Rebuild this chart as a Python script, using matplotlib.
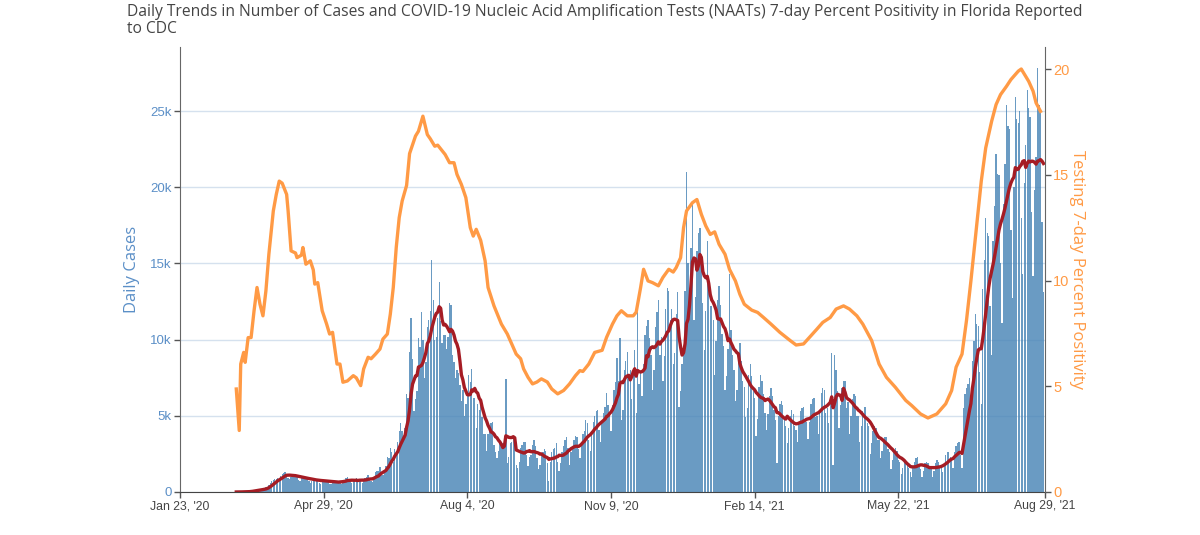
import numpy as np
import pandas as pd
import matplotlib
matplotlib.use('Agg')
import matplotlib.pyplot as plt

# daily reported cases (thousands), one week per row, starting Sunday 2020-03-01
case_start = '2020-03-01'
daily_cases_k = [
    0.0, 0.0, 0.01, 0.01, 0.01, 0.02, 0.02,
    0.02, 0.03, 0.05, 0.07, 0.1, 0.13, 0.16,
    0.1, 0.12, 0.15, 0.2, 0.25, 0.27, 0.3,
    0.35, 0.45, 0.6, 0.7, 0.8, 0.85, 0.85,
    0.9, 0.85, 1.05, 1.15, 1.25, 1.3, 1.2,
    0.95, 0.85, 1.0, 1.15, 1.2, 1.15, 1.05,
    0.8, 0.7, 0.9, 1.0, 1.0, 1.0, 0.9,
    0.7, 0.6, 0.75, 0.85, 0.9, 0.85, 0.8,
    0.6, 0.55, 0.7, 0.8, 0.8, 0.8, 0.72,
    0.55, 0.5, 0.65, 0.7, 0.75, 0.75, 0.65,
    0.6, 0.55, 0.75, 0.8, 0.9, 1.0, 0.72,
    0.65, 0.6, 0.7, 0.8, 0.95, 0.85, 0.85,
    0.7, 0.6, 0.7, 0.9, 1.0, 1.1, 0.95,
    0.75, 0.65, 1.0, 1.3, 1.35, 1.35, 1.65,
    1.3, 1.1, 1.4, 1.7, 2.3, 2.2, 2.9,
    2.6, 2.0, 2.8, 2.7, 3.3, 4.0, 4.5,
    4.0, 3.4, 4.2, 6.4, 6.2, 9.2, 11.4,
    8.7, 5.3, 6.1, 6.6, 10.1, 9.5, 11.8,
    10.0, 7.5, 8.5, 10.8, 11.3, 11.9, 15.2,
    12.6, 10.0, 10.2, 11.4, 13.8, 11.2, 9.8,
    10.3, 10.3, 9.4, 10.2, 12.4, 12.3, 9.0,
    8.5, 7.5, 8.0, 7.8, 7.0, 6.0, 6.7,
    5.0, 5.8, 6.4, 7.7, 7.2, 8.1, 6.2,
    6.2, 4.2, 5.8, 5.4, 6.2, 4.9, 3.8,
    3.8, 2.7, 3.8, 4.1, 4.5, 4.6, 3.1,
    2.6, 2.2, 2.7, 3.3, 3.3, 3.2, 3.7,
    7.4, 1.9, 2.3, 3.2, 3.3, 3.6, 3.2,
    1.8, 1.6, 2.0, 2.9, 3.1, 3.3, 3.3,
    2.4, 1.7, 2.3, 2.4, 3.1, 3.4, 3.0,
    2.2, 1.5, 1.8, 2.5, 2.6, 2.8, 2.7,
    1.9, 0.7, 2.0, 2.6, 2.8, 2.9, 3.2,
    2.0, 1.4, 1.9, 2.6, 3.0, 3.4, 3.6,
    2.9, 1.8, 2.6, 3.0, 3.4, 3.7, 3.6,
    2.8, 2.2, 3.2, 3.8, 4.0, 4.7, 4.5,
    3.4, 2.7, 4.0, 4.6, 5.0, 5.3, 5.4,
    4.1, 3.3, 4.6, 5.2, 5.6, 6.5, 5.7,
    5.1, 4.0, 5.7, 6.7, 7.2, 8.8, 7.3,
    10.1, 4.7, 5.4, 8.0, 8.6, 9.2, 7.6,
    8.0, 6.1, 7.8, 9.3, 5.2, 11.8, 7.1,
    7.8, 6.3, 8.4, 10.3, 10.9, 11.3, 10.1,
    9.0, 6.7, 8.0, 10.8, 11.8, 12.6, 9.0,
    10.2, 7.3, 8.9, 12.0, 13.4, 13.2, 11.3,
    12.0, 8.4, 9.1, 11.7, 13.1, 5.6, 6.6,
    8.4, 9.5, 13.2, 21.0, 15.0, 12.1, 16.0,
    18.9, 11.3, 12.8, 15.8, 17.0, 17.3, 14.7,
    12.4, 9.3, 11.9, 16.5, 13.7, 12.2, 12.2,
    11.3, 7.7, 9.9, 12.6, 13.5, 12.3, 10.4,
    9.6, 6.7, 7.6, 9.4, 14.3, 10.6, 9.0,
    8.0, 6.0, 6.7, 8.9, 9.8, 8.6, 7.3,
    6.9, 4.9, 5.5, 7.7, 8.4, 7.6, 6.6,
    6.2, 3.7, 4.8, 6.9, 7.7, 7.3, 6.4,
    5.2, 4.1, 5.1, 6.3, 6.8, 6.3, 5.4,
    4.7, 1.9, 5.0, 5.8, 6.0, 5.7, 4.8,
    4.3, 3.2, 4.2, 5.0, 5.4, 5.1, 4.3,
    4.1, 3.3, 4.5, 5.3, 5.5, 5.6, 4.6,
    4.6, 3.5, 4.6, 5.8, 6.1, 6.2, 4.9,
    5.0, 3.8, 5.2, 6.5, 6.8, 6.7, 5.2,
    5.5, 4.5, 5.9, 9.1, 1.8, 9.0, 8.0,
    6.6, 4.2, 5.7, 6.8, 7.3, 7.3, 5.5,
    5.9, 3.8, 5.0, 6.1, 6.4, 6.3, 5.0,
    5.0, 3.3, 4.3, 5.3, 5.6, 5.6, 4.5,
    4.3, 2.5, 3.2, 4.0, 4.3, 4.2, 3.4,
    3.4, 2.2, 2.7, 3.4, 3.6, 3.6, 2.8,
    2.6, 1.5, 2.1, 2.6, 2.9, 2.7, 2.1,
    2.0, 1.2, 1.6, 2.0, 2.1, 2.0, 1.55,
    1.3, 1.0, 1.6, 2.0, 2.2, 2.3, 1.85,
    1.5, 1.0, 1.4, 1.9, 2.0, 1.9, 1.5,
    1.5, 1.0, 1.4, 1.9, 2.1, 2.0, 1.65,
    1.7, 1.3, 1.8, 2.4, 2.6, 2.6, 2.3,
    2.1, 1.6, 2.6, 3.0, 3.2, 3.3, 2.4,
    1.6, 5.5, 6.4, 6.8, 7.1, 7.5, 5.7,
    8.6, 9.9, 11.7, 11.0, 10.9, 7.9, 5.8,
    13.3, 15.2, 18.0, 17.0, 16.8, 12.2, 9.0,
    16.5, 18.8, 22.2, 20.9, 20.8, 15.0, 11.1,
    18.9, 21.5, 25.4, 24.0, 23.8, 17.2, 12.7,
    20.0, 25.9, 24.5, 24.2, 25.0, 18.0, 14.3,
    20.3, 22.8, 26.4, 25.2, 24.6, 18.4, 14.2,
    19.8, 22.0, 27.8, 25.4, 25.1, 17.7, 13.1,
]

# NAAT 7-day percent positivity
pos_dates = [
    '2020-03-01', '2020-03-03', '2020-03-04', '2020-03-06', '2020-03-07', '2020-03-09',
    '2020-03-11', '2020-03-13', '2020-03-15', '2020-03-17', '2020-03-19', '2020-03-21',
    '2020-03-23', '2020-03-26', '2020-03-28', '2020-03-30', '2020-04-01', '2020-04-04',
    '2020-04-05', '2020-04-07', '2020-04-10', '2020-04-11', '2020-04-14', '2020-04-15',
    '2020-04-17', '2020-04-20', '2020-04-22', '2020-04-23', '2020-04-25', '2020-04-28',
    '2020-05-01', '2020-05-03', '2020-05-05', '2020-05-08', '2020-05-10', '2020-05-12',
    '2020-05-15', '2020-05-19', '2020-05-21', '2020-05-24', '2020-05-26', '2020-05-29',
    '2020-05-31', '2020-06-03', '2020-06-06', '2020-06-08', '2020-06-11', '2020-06-13',
    '2020-06-15', '2020-06-17', '2020-06-19', '2020-06-21', '2020-06-24', '2020-06-26',
    '2020-06-30', '2020-07-02', '2020-07-05', '2020-07-08', '2020-07-10', '2020-07-13',
    '2020-07-15', '2020-07-20', '2020-07-23', '2020-07-26', '2020-07-28', '2020-07-31',
    '2020-08-03', '2020-08-06', '2020-08-08', '2020-08-10', '2020-08-13', '2020-08-16',
    '2020-08-18', '2020-08-22', '2020-08-27', '2020-08-31', '2020-09-03', '2020-09-06',
    '2020-09-09', '2020-09-11', '2020-09-14', '2020-09-17', '2020-09-20', '2020-09-23',
    '2020-09-27', '2020-09-30', '2020-10-04', '2020-10-08', '2020-10-12', '2020-10-16',
    '2020-10-19', '2020-10-21', '2020-10-25', '2020-10-29', '2020-11-03', '2020-11-06',
    '2020-11-10', '2020-11-13', '2020-11-16', '2020-11-20', '2020-11-24', '2020-11-26',
    '2020-11-29', '2020-12-01', '2020-12-04', '2020-12-07', '2020-12-11', '2020-12-14',
    '2020-12-18', '2020-12-21', '2020-12-23', '2020-12-26', '2020-12-28', '2020-12-30',
    '2021-01-03', '2021-01-06', '2021-01-09', '2021-01-12', '2021-01-15', '2021-01-18',
    '2021-01-21', '2021-01-25', '2021-01-28', '2021-02-01', '2021-02-04', '2021-02-07',
    '2021-02-12', '2021-02-16', '2021-02-20', '2021-02-25', '2021-03-03', '2021-03-10',
    '2021-03-14', '2021-03-19', '2021-03-23', '2021-03-28', '2021-04-01', '2021-04-06',
    '2021-04-10', '2021-04-15', '2021-04-19', '2021-04-24', '2021-04-28', '2021-05-04',
    '2021-05-09', '2021-05-14', '2021-05-20', '2021-05-27', '2021-05-31', '2021-06-06',
    '2021-06-11', '2021-06-17', '2021-06-23', '2021-06-27', '2021-06-30', '2021-07-04',
    '2021-07-07', '2021-07-10', '2021-07-14', '2021-07-17', '2021-07-20', '2021-07-24',
    '2021-07-27', '2021-07-30', '2021-08-03', '2021-08-06', '2021-08-11', '2021-08-13',
    '2021-08-18', '2021-08-21', '2021-08-23', '2021-08-26',
]
pos_values = [
    4.87, 2.91, 6.05, 6.6, 6.13, 7.3,
    7.3, 8.57, 9.67, 8.88, 8.33, 9.51,
    11.24, 13.29, 14.07, 14.7, 14.6, 14.07,
    13.29, 11.4, 11.3, 11.08, 11.2, 11.56,
    10.77, 10.93, 10.5, 9.83, 9.9, 8.57,
    7.94, 7.47, 7.55, 6.05, 6.05, 5.19,
    5.25, 5.5, 5.4, 5.03, 5.82, 6.37,
    6.3, 6.52, 6.76, 7.23, 7.47, 8.41,
    9.67, 11.56, 12.97, 13.76, 14.5, 16.0,
    16.83, 17.06, 17.77, 16.9, 16.7, 16.35,
    16.4, 15.96, 15.57, 15.57, 15.02, 14.54,
    13.92, 12.5, 12.1, 12.42, 11.9, 10.93,
    9.67, 8.8, 7.94, 7.47, 7.0, 6.52,
    6.3, 5.82, 5.42, 5.11, 5.2, 5.35,
    5.2, 4.87, 4.64, 4.8, 5.11, 5.5,
    5.74, 5.7, 6.05, 6.6, 6.7, 7.31,
    7.94, 8.33, 8.57, 8.33, 8.33, 8.5,
    9.67, 10.53, 9.98, 9.9, 9.75, 10.14,
    10.53, 10.4, 10.61, 11.08, 12.5, 13.29,
    13.68, 13.83, 13.13, 12.58, 12.18, 12.3,
    11.71, 11.24, 10.53, 9.98, 9.35, 8.88,
    8.6, 8.49, 8.25, 7.94, 7.55, 7.16,
    6.95, 7.0, 7.31, 7.7, 8.02, 8.25,
    8.65, 8.8, 8.65, 8.33, 7.94, 7.16,
    6.05, 5.42, 4.95, 4.33, 4.09, 3.69,
    3.5, 3.69, 4.17, 4.8, 5.9, 6.52,
    8.1, 9.98, 12.66, 14.7, 16.27, 17.53,
    18.32, 18.79, 19.18, 19.5, 19.9, 20.0,
    19.42, 18.95, 18.4, 18.0,
]

x_ticks = ['2020-01-23', '2020-04-29', '2020-08-04', '2020-11-09',
           '2021-02-14', '2021-05-22', '2021-08-29']
x_tick_labels = ["Jan 23, '20", "Apr 29, '20", "Aug 4, '20", "Nov 9, '20",
                 "Feb 14, '21", "May 22, '21", "Aug 29, '21"]
case_ticks = [0, 5000, 10000, 15000, 20000, 25000]
case_tick_labels = ['0', '5k', '10k', '15k', '20k', '25k']
pos_ticks = [0, 5, 10, 15, 20]

title = ('Daily Trends in Number of Cases and COVID-19 Nucleic Acid Amplification Tests '
         '(NAATs) 7-day Percent Positivity in Florida Reported\nto CDC')

days = pd.date_range(case_start, periods=len(daily_cases_k), freq='D')
cases = pd.Series(np.array(daily_cases_k) * 1000, index=days)
avg7 = cases.rolling(7, min_periods=1).mean()

blue_txt = '#5b8fc7'
orange = '#ff9a45'

fig = plt.figure(figsize=(12, 5.35), dpi=100)
ax1 = fig.add_axes([0.15, 0.0804, 0.7208, 0.8317])

ax1.bar(days, cases.values, width=0.9, color='#4582b5', alpha=0.8, linewidth=0)
ax1.plot(days, avg7.values, color='#a51c24', linewidth=2.4, solid_joinstyle='round')

ax1.set_xlim(pd.Timestamp('2020-01-23'), pd.Timestamp('2021-08-29'))
ax1.set_ylim(0, 29200)
ax1.set_xticks(pd.to_datetime(x_ticks))
ax1.set_xticklabels(x_tick_labels, fontsize=8.8, color='#444444', family='Liberation Sans')
ax1.set_yticks(case_ticks)
ax1.set_yticklabels(case_tick_labels, fontsize=9.5, color=blue_txt, family='Liberation Sans')
ax1.yaxis.grid(True, color='#d5e1ee', linewidth=1)
ax1.set_axisbelow(True)
ax1.tick_params(axis='both', length=4, width=1, color='#555555', pad=2)
for s in ['top', 'right']:
    ax1.spines[s].set_visible(False)
ax1.spines['left'].set_color('#666666')
ax1.spines['bottom'].set_color('#444444')
ax1.set_ylabel('Daily Cases', fontsize=12, color=blue_txt, family='Open Sans')
ax1.yaxis.set_label_coords(-0.046, 0.5)

ax2 = ax1.twinx()
ax2.plot(pd.to_datetime(pos_dates), pos_values, color=orange, linewidth=2.4,
         solid_joinstyle='round')
ax2.set_ylim(0, 21.04)
ax2.set_yticks(pos_ticks)
ax2.set_yticklabels([str(t) for t in pos_ticks], fontsize=10.5, color=orange,
                    family='Liberation Sans')
ax2.tick_params(axis='y', length=4, width=1, color='#555555', pad=2)
for s in ['top', 'left', 'bottom']:
    ax2.spines[s].set_visible(False)
ax2.spines['right'].set_color('#666666')
ax2.set_ylabel('Testing 7-day Percent Positivity', fontsize=12, color=orange,
               family='Open Sans', rotation=270, va='center')
ax2.yaxis.set_label_coords(1.037, 0.5)

fig.text(127 / 1200, 1 - 4 / 535, title, ha='left', va='top', fontsize=11.25,
         color='#444444', family='Open Sans', linespacing=1.1)

fig.savefig('out.png', dpi=100)
